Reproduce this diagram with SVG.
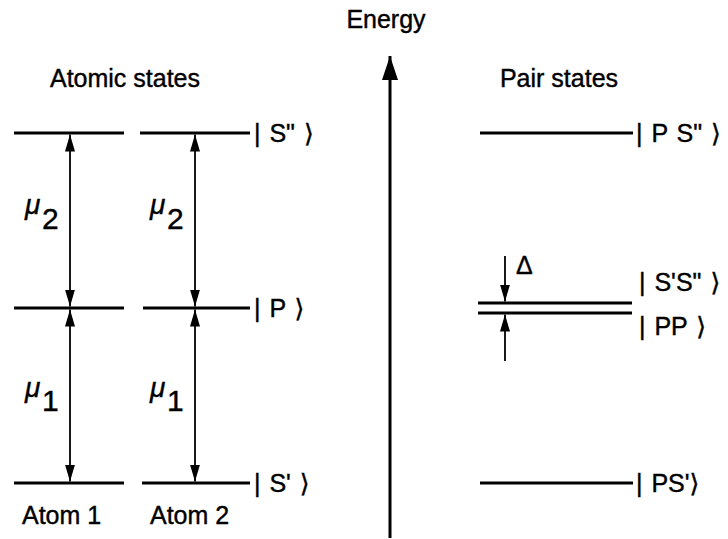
<svg xmlns="http://www.w3.org/2000/svg" width="728" height="539" viewBox="0 0 728 539">
<defs>
<marker id="ah" viewBox="0 0 17 10" refX="17" refY="5" markerWidth="17" markerHeight="10" markerUnits="userSpaceOnUse" orient="auto-start-reverse">
<path d="M0,0 L17,5 L0,10 Z" fill="#000"/>
</marker>
<marker id="ahBig" viewBox="0 0 24 16" refX="24" refY="8" markerWidth="24" markerHeight="16" markerUnits="userSpaceOnUse" orient="auto">
<path d="M0,0 L24,8 L0,16 Z" fill="#000"/>
</marker>
<style>
.lvl{stroke:#000;stroke-width:3;fill:none}
.arr{stroke:#000;stroke-width:1.8;fill:none}
text{font-family:"Liberation Sans",Arial,"DejaVu Sans",sans-serif;fill:#000;stroke:#000;stroke-width:0.4}
.t{font-size:25px}
.k{font-size:25px;word-spacing:2px}
.mu{font-size:28px;font-style:italic}
.sub{font-size:30px}
</style>
</defs>
<rect width="728" height="539" fill="#fff"/>

<g id="axis">
<line x1="390" y1="538" x2="390" y2="56" stroke="#000" stroke-width="3" marker-end="url(#ahBig)"/>
<text class="t" x="386" y="28" text-anchor="middle">Energy</text>
</g>

<g id="headers">
<text class="t" x="125" y="87" text-anchor="middle">Atomic states</text>
<text class="t" x="559" y="87" text-anchor="middle">Pair states</text>
</g>

<g id="atom1">
<line class="lvl" x1="14" y1="133" x2="124" y2="133"/>
<line class="lvl" x1="14" y1="308" x2="124" y2="308"/>
<line class="lvl" x1="14" y1="483" x2="124" y2="483"/>
<text class="t" x="22" y="524">Atom 1</text>
</g>

<g id="atom2">
<line class="lvl" x1="140" y1="133" x2="250" y2="133"/>
<line class="lvl" x1="143" y1="308" x2="250" y2="308"/>
<line class="lvl" x1="142" y1="483" x2="250" y2="483"/>
<text class="t" x="150" y="524">Atom 2</text>
</g>

<g id="atom-labels">
<text class="k" x="254" y="142">| S" ⟩</text>
<text class="k" x="254" y="317">| P ⟩</text>
<text class="k" x="254" y="492">| S' ⟩</text>
</g>

<g id="mu-labels">
<text class="mu" x="25" y="214">μ</text><text class="sub" x="42" y="229">2</text>
<text class="mu" x="150" y="214">μ</text><text class="sub" x="167" y="229">2</text>
<text class="mu" x="25" y="397">μ</text><text class="sub" x="42" y="411">1</text>
<text class="mu" x="150" y="397">μ</text><text class="sub" x="167" y="411">1</text>
</g>

<g id="pair">
<line class="lvl" x1="480" y1="133" x2="633" y2="133"/>
<text class="k" x="636" y="142">| P S" ⟩</text>
<line class="lvl" x1="478" y1="303" x2="632" y2="303"/>
<line class="lvl" x1="478" y1="313" x2="632" y2="313"/>
<text class="k" x="639" y="291">| S'S" ⟩</text>
<text class="k" x="639" y="335">| PP ⟩</text>
<text class="t" x="516" y="274">Δ</text>
<line class="lvl" x1="480" y1="483" x2="633" y2="483"/>
<text class="k" x="636" y="492">| PS'⟩</text>
</g>

<g id="connectors">
<line class="arr" x1="70" y1="134.5" x2="70" y2="306.5" marker-start="url(#ah)" marker-end="url(#ah)"/>
<line class="arr" x1="70" y1="309.5" x2="70" y2="481.5" marker-start="url(#ah)" marker-end="url(#ah)"/>
<line class="arr" x1="195" y1="134.5" x2="195" y2="306.5" marker-start="url(#ah)" marker-end="url(#ah)"/>
<line class="arr" x1="195" y1="309.5" x2="195" y2="481.5" marker-start="url(#ah)" marker-end="url(#ah)"/>
<line class="arr" x1="505" y1="256" x2="505" y2="301.5" marker-end="url(#ah)"/>
<line class="arr" x1="505" y1="361" x2="505" y2="314.5" marker-end="url(#ah)"/>
</g>
</svg>
